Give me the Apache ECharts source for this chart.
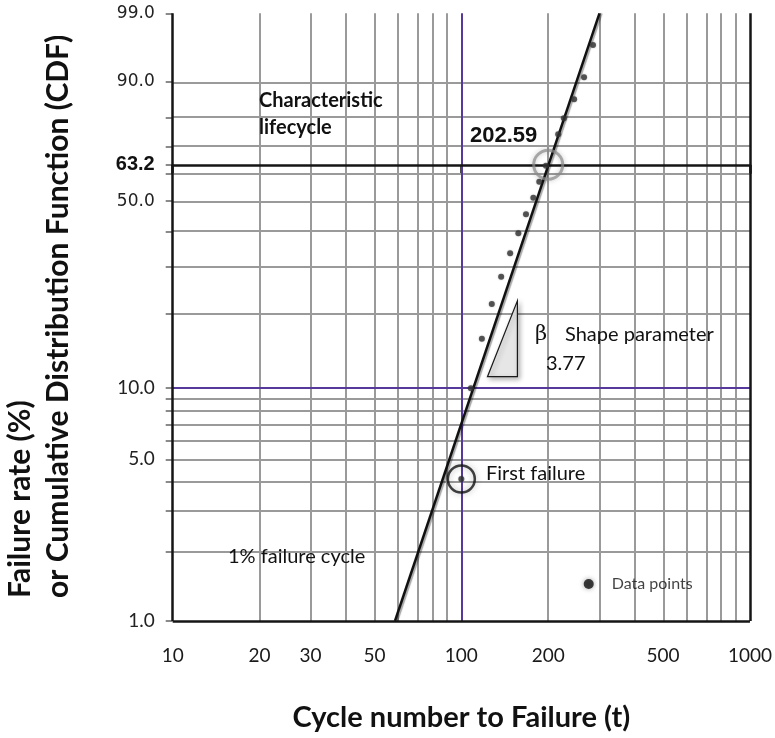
<!DOCTYPE html>
<html><head><meta charset="utf-8">
<script src="https://cdn.jsdelivr.net/npm/echarts@6/dist/echarts.min.js"></script>
<style>html,body{margin:0;padding:0;background:#fff}#c{width:775px;height:738px}</style>
</head><body><div id="c"></div>
<script>
// ---- data ----
const xTickLabels = [10, 20, 30, 50, 100, 200, 500, 1000];
const xGridGray = [20, 30, 40, 50, 60, 70, 80, 90, 200, 300, 400, 500, 600, 700, 800, 900];
const xGridPurple = [100];
const xGridBlack = [10, 1000];
const xTickMarks = [10, 100, 1000];
const yTickLabels = [1.0, 5.0, 10.0, 50.0, 63.2, 90.0, 99.0];
const yGridGray = [2, 3, 4, 5, 6, 7, 8, 9, 20, 30, 40, 50, 60, 70, 80, 90];
const yGridPurple = [10];
const yGridBlack = [1, 63.2, 99];
const cycles = [100, 107.9, 117.8, 127.5, 137.4, 147.6, 157.6, 167.5, 177.6, 186.2, 196.4, 216.6, 226.6, 245.9, 266.2, 285.9];
const failurePct = [4.12, 9.97, 15.9, 21.8, 27.6, 33.6, 39.4, 45.5, 51.2, 56.9, 62.8, 74.3, 79.8, 85.55, 91.06, 96.47];
const fitCycles = [58.9, 301];
const fitPct = [1, 99];
const characteristicPoint = [200, 63.2];
const firstFailurePoint = [100, 4.12];
const triangleCycles = [123.2, 156.4, 156.4];
const trianglePct = [11.13, 11.13, 22.4];
const legendDot = [276.3, 1.45];

// ---- scale transforms (Weibull paper) ----
const lx = t => Math.log10(t);
const wy = p => Math.log(-Math.log(1 - p / 100));
const invWy = v => 100 * (1 - Math.exp(-Math.exp(v)));

const gridLines = (xs, ys, color, width) => ({
  type: 'line', data: [], silent: true, z: 1,
  markLine: {
    z: 1, silent: true, symbol: 'none', animation: false,
    label: { show: false },
    lineStyle: { color: color, width: width, type: 'solid' },
    emphasis: { disabled: true },
    data: xs.map(v => ({ xAxis: lx(v) })).concat(ys.map(v => ({ yAxis: wy(v) })))
  }
});

const txt = (x, y, text, font, extra) => ({
  type: 'text', x: x, y: y, z: 20,
  style: Object.assign({ text: text, font: font, fill: '#111', align: 'left', verticalAlign: 'middle' }, extra || {})
});

const chart = echarts.init(document.getElementById('c'), null, { renderer: 'canvas' });
chart.setOption({
  animation: false,
  backgroundColor: '#fff',
  grid: { left: 172.7, right: 21.7, top: 13.3, bottom: 117, show: false },
  xAxis: {
    type: 'value', min: lx(10), max: lx(1000),
    splitLine: { show: false },
    axisLine: { show: false },
    axisTick: { show: true, customValues: xTickMarks.map(lx), length: 9, lineStyle: { color: '#111', width: 2.5 } },
    axisLabel: {
      customValues: xTickLabels.map(lx), margin: 25,
      fontFamily: 'Lato', fontSize: 19, color: '#1a1a1a',
      formatter: v => String(Math.round(Math.pow(10, v)))
    },
    name: 'Cycle number to Failure (t)', nameLocation: 'middle', nameGap: 82,
    nameTextStyle: { fontFamily: 'Lato', fontWeight: 'bold', fontSize: 29, color: '#111' }
  },
  yAxis: {
    type: 'value', min: wy(1), max: wy(99),
    splitLine: { show: false },
    axisLine: { show: false },
    axisTick: { show: true, customValues: yGridGray.concat(yGridPurple, yGridBlack).map(wy), length: 7, lineStyle: { color: '#8a8a8a', width: 2 } },
    axisLabel: {
      customValues: yTickLabels.map(wy), margin: 18,
      formatter: v => {
        const p = invWy(v);
        let best = yTickLabels[0];
        yTickLabels.forEach(l => { if (Math.abs(l - p) < Math.abs(best - p)) best = l; });
        const k = best === 63.2 ? 'b' : (best <= 10 ? 'c' : 'a');
        return '{' + k + '|' + best.toFixed(1) + '}';
      },
      rich: {
        a: { fontFamily: 'DejaVu Sans', fontSize: 17, color: '#222' },
        b: { fontFamily: 'Liberation Sans', fontWeight: 'bold', fontSize: 20, color: '#111' },
        c: { fontFamily: 'Lato', fontSize: 19, color: '#222' }
      }
    }
  },
  series: [
    gridLines(xGridGray, yGridGray, '#9a9a9a', 2),
    gridLines(xGridPurple, yGridPurple, '#553a9c', 2),
    gridLines(xGridBlack, yGridBlack, '#151515', 2.5),
    {
      type: 'custom', z: 3, silent: true,
      data: [[lx(triangleCycles[0]), wy(trianglePct[0]), lx(triangleCycles[1]), wy(trianglePct[1]), lx(triangleCycles[2]), wy(trianglePct[2])]],
      encode: { x: [0, 2, 4], y: [1, 3, 5] },
      renderItem: (params, api) => {
        const pts = [0, 1, 2].map(i => api.coord([api.value(2 * i), api.value(2 * i + 1)]));
        return {
          type: 'polygon', shape: { points: pts },
          style: { fill: '#e6e6e6', stroke: '#1a1a1a', lineWidth: 1.2, shadowBlur: 5, shadowColor: 'rgba(0,0,0,0.3)', shadowOffsetX: 2, shadowOffsetY: 2 }
        };
      }
    },
    {
      type: 'line', z: 4, silent: true, symbol: 'none',
      data: fitCycles.map((t, i) => [lx(t), wy(fitPct[i])]),
      lineStyle: { color: '#111', width: 2.5, shadowColor: 'rgba(0,0,0,0.35)', shadowBlur: 1, shadowOffsetX: 2, shadowOffsetY: 0 }
    },
    {
      type: 'scatter', z: 5, silent: true, symbol: 'circle', symbolSize: 6,
      data: cycles.map((t, i) => [lx(t), wy(failurePct[i])]),
      itemStyle: { color: '#333', shadowBlur: 2, shadowColor: 'rgba(0,0,0,0.3)' }
    },
    {
      type: 'scatter', z: 6, silent: true, symbol: 'circle', symbolSize: 29,
      data: [[lx(characteristicPoint[0]), wy(characteristicPoint[1])]],
      itemStyle: { color: 'rgba(0,0,0,0)', borderColor: 'rgba(140,140,140,0.9)', borderWidth: 3, shadowBlur: 5, shadowColor: 'rgba(0,0,0,0.3)' }
    },
    {
      type: 'scatter', z: 6, silent: true, symbol: 'circle', symbolSize: 27,
      data: [[lx(firstFailurePoint[0]), wy(firstFailurePoint[1])]],
      itemStyle: { color: 'rgba(0,0,0,0)', borderColor: '#111', borderWidth: 2.5, shadowBlur: 6, shadowColor: 'rgba(0,0,0,0.35)' }
    },
    {
      type: 'scatter', z: 6, silent: true, symbol: 'circle', symbolSize: 10,
      data: [[lx(legendDot[0]), wy(legendDot[1])]],
      itemStyle: { color: '#111', shadowBlur: 5, shadowColor: 'rgba(0,0,0,0.45)' },
      label: { show: true, position: 'right', distance: 18, formatter: 'Data points', fontFamily: 'Lato', fontSize: 16, color: '#111' }
    }
  ],
  graphic: [
    Object.assign(txt(20, 598, 'Failure rate (%)', 'bold 30px Lato'), { rotation: Math.PI / 2 }),
    Object.assign(txt(58, 598, 'or Cumulative Distribution Function (CDF)', 'bold 30px Lato'), { rotation: Math.PI / 2 }),
    txt(259, 87, 'Characteristic\nlifecycle', 'bold 20px Lato', { lineHeight: 27, verticalAlign: 'top' }),
    txt(470, 136, '202.59', 'bold 22px "Liberation Sans"'),
    txt(535, 335, 'β', '21px "DejaVu Serif"'),
    txt(565, 335, 'Shape parameter', '20px Lato'),
    txt(546, 364, '3.77', '20px Lato'),
    txt(486, 474, 'First failure', '20px Lato'),
    txt(228, 557, '1% failure cycle', '20px Lato')
  ]
});
</script></body></html>
